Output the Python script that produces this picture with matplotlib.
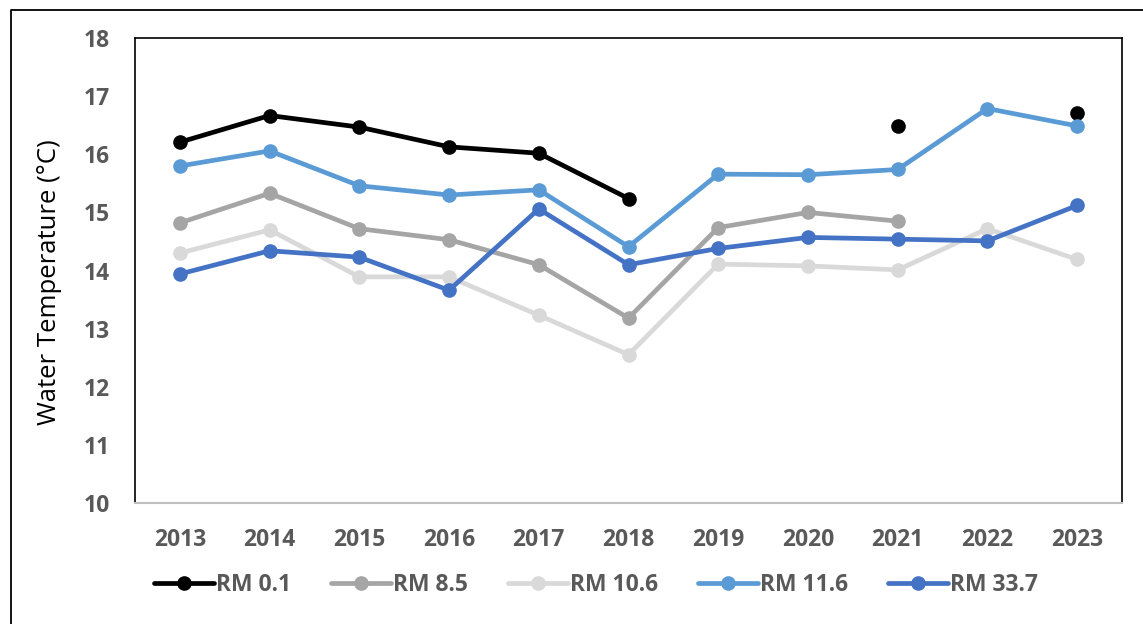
import matplotlib
matplotlib.use("Agg")
import matplotlib.pyplot as plt
from matplotlib.lines import Line2D
import numpy as np

years = ["2013", "2014", "2015", "2016", "2017", "2018",
         "2019", "2020", "2021", "2022", "2023"]

# mean water temperature (deg C) per river mile site; nan = no data
rm_0_1 = [16.21, 16.67, 16.47, 16.13, 16.02, 15.24, np.nan, np.nan, 16.49, np.nan, 16.71]
rm_8_5 = [14.82, 15.33, 14.72, 14.53, 14.10, 13.18, 14.74, 15.00, 14.85, np.nan, np.nan]
rm_10_6 = [14.30, 14.70, 13.89, 13.89, 13.23, 12.55, 14.11, 14.08, 14.01, 14.72, 14.19]
rm_11_6 = [15.80, 16.06, 15.46, 15.30, 15.39, 14.41, 15.66, 15.65, 15.74, 16.79, 16.49]
rm_33_7 = [13.94, 14.34, 14.23, 13.66, 15.06, 14.10, 14.38, 14.57, 14.54, 14.51, 15.12]

series = [
    ("RM 0.1", rm_0_1, "#000000"),
    ("RM 8.5", rm_8_5, "#A5A5A5"),
    ("RM 10.6", rm_10_6, "#D9D9D9"),
    ("RM 11.6", rm_11_6, "#5B9BD5"),
    ("RM 33.7", rm_33_7, "#4472C4"),
]

plt.rcParams['font.family'] = ['Open Sans', 'DejaVu Sans']

W, H = 1143, 624
fig = plt.figure(figsize=(W / 100, H / 100), dpi=100)
ax = fig.add_axes([135 / W, 1 - 502.7 / H, (1122 - 135) / W, (502.7 - 38.3) / H])

x = np.arange(len(years))
for name, vals, col in series:
    ax.plot(x, vals, color=col, lw=3.4, marker="o", ms=9.5,
            solid_capstyle="round", label=name)

ax.set_xlim(-0.5, len(years) - 0.5)
ax.set_ylim(10, 18)
ax.set_yticks(range(10, 19))
ax.set_xticks(x)
ax.set_xticklabels(years)
ax.tick_params(length=0, labelsize=16.5, labelcolor="#595959")
ax.tick_params(axis="x", pad=18)
ax.tick_params(axis="y", pad=18)
for lab in ax.get_xticklabels() + ax.get_yticklabels():
    lab.set_fontweight("bold")

for s in ["left", "top", "right"]:
    ax.spines[s].set_color("black")
    ax.spines[s].set_linewidth(1.2)
ax.spines["bottom"].set_color("#BFBFBF")
ax.spines["bottom"].set_linewidth(1.5)

ax.set_ylabel("Water Temperature (°C)", fontsize=18.5, color="black")
ax.yaxis.set_label_coords(-73 / 987, 0.475)

leg = fig.legend(loc="center", bbox_to_anchor=(596 / W, 1 - 585 / H), ncol=5,
                 frameon=False, handlelength=2.6, handletextpad=0.1,
                 columnspacing=1.75, prop={"size": 16.5, "weight": "bold"})
for t in leg.get_texts():
    t.set_color("#595959")

# outer frame (only left and top edges fall inside the canvas)
fig.add_artist(Line2D([11 / W, 11 / W, 1.0], [0.0, 1 - 9.5 / H, 1 - 9.5 / H],
                      transform=fig.transFigure, color="black", lw=1.3))

fig.savefig("out.png", dpi=100)
